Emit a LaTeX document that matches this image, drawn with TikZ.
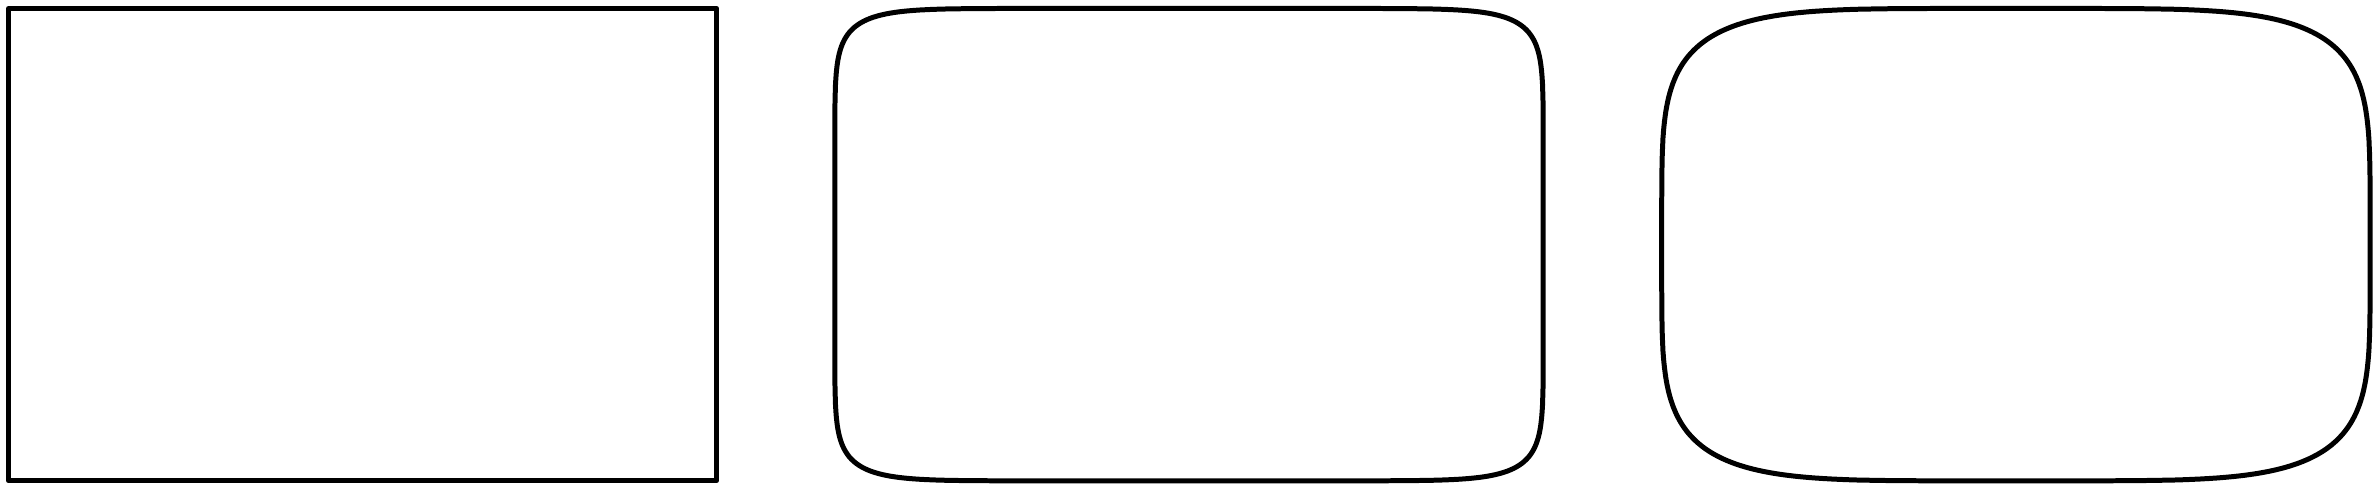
\documentclass[tikz,border=0pt]{standalone}
\usepackage{tikz}

\begin{document}
\begin{tikzpicture}[
    x=0.01cm, y=-0.01cm,
    outline/.style={draw=black, line width=1.42pt, line join=round},
    lame/.style={outline, samples=720, domain=0.25:359.75, variable=\t}
]
\useasboundingbox (0,0) rectangle (2379,489);

% Plain rectangle
\draw[outline] (8.5,8.5) rectangle (716.8,480.8);

% Squircle, exponent 10
\draw[lame, shift={(1189,244.65)}]
    plot ({354.15*sign(cos(\t))*pow(abs(cos(\t)),0.2)},
          {236.15*sign(sin(\t))*pow(abs(sin(\t)),0.2)}) -- cycle;

% Superellipse, exponent 5
\draw[lame, shift={(2015.9,244.65)}]
    plot ({354.15*sign(cos(\t))*pow(abs(cos(\t)),0.4)},
          {236.15*sign(sin(\t))*pow(abs(sin(\t)),0.4)}) -- cycle;

\end{tikzpicture}
\end{document}
